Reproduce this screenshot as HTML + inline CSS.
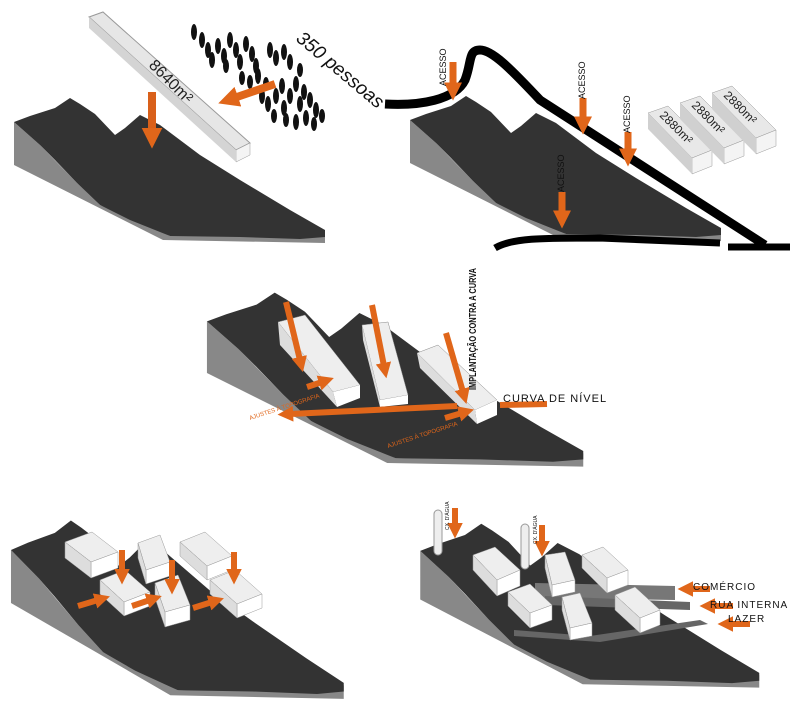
<!DOCTYPE html>
<html><head><meta charset="utf-8"><style>
html,body{margin:0;padding:0;background:#fff;}
svg{display:block;font-family:"Liberation Sans",sans-serif;}
</style></head><body>
<svg width="800" height="702" viewBox="0 0 800 702" xmlns="http://www.w3.org/2000/svg">
<defs>
<marker id="ah" viewBox="0 0 10 10" refX="2" refY="5" markerWidth="2.6" markerHeight="2.6" orient="auto"><path d="M0,0 L10,5 L0,10 Z" fill="#e0661a"/></marker>
<g id="terr">
<path d="M14,122 L14,165 L163,240 L325,243 L325,232 L170,236 L100,205 L77,183 L40,145 Z" fill="#888"/>
<path d="M14,122 L30,116 L55,108 L70,98 L80,104 L95,114 L115,135 L125,128 L140,115 L160,125 L200,155 L240,180 L290,210 L325,230 L325,237 L300,239 L240,237 L170,236 L130,220 L100,205 L77,183 L55,160 L40,145 Z" fill="#333"/>
</g>
</defs>

<!-- Panel 1 -->
<use href="#terr"/>
<g>
<polygon points="89,17 103,12 250,143 236,150" fill="#e6e6e6" stroke="#999" stroke-width="1"/>
<polygon points="236,150 250,143 250,155 236,162" fill="#f4f4f4" stroke="#999" stroke-width=".5"/>
<polygon points="89,17 236,150 236,162 89,28" fill="#d4d4d4"/>
<text transform="translate(148,66) rotate(45)" font-size="16" fill="#222">8640m²</text>
<g fill="#111">
<ellipse cx="194" cy="32" rx="3" ry="8"/><ellipse cx="202" cy="40" rx="3" ry="8"/><ellipse cx="208" cy="50" rx="3" ry="8"/><ellipse cx="212" cy="60" rx="3" ry="8"/>
<ellipse cx="218" cy="46" rx="3" ry="8"/><ellipse cx="224" cy="56" rx="3" ry="8"/><ellipse cx="230" cy="40" rx="3" ry="8"/><ellipse cx="236" cy="50" rx="3" ry="8"/>
<ellipse cx="240" cy="62" rx="3" ry="8"/><ellipse cx="246" cy="44" rx="3" ry="8"/><ellipse cx="252" cy="54" rx="3" ry="8"/><ellipse cx="256" cy="66" rx="3" ry="8"/>
<ellipse cx="242" cy="78" rx="3" ry="7"/><ellipse cx="250" cy="82" rx="3" ry="7"/><ellipse cx="258" cy="76" rx="3" ry="8"/>
<ellipse cx="270" cy="50" rx="3" ry="8"/><ellipse cx="276" cy="58" rx="3" ry="8"/><ellipse cx="284" cy="52" rx="3" ry="8"/><ellipse cx="290" cy="62" rx="3" ry="8"/>
<ellipse cx="262" cy="96" rx="3" ry="8"/><ellipse cx="268" cy="104" rx="3" ry="8"/><ellipse cx="276" cy="96" rx="3" ry="8"/><ellipse cx="282" cy="86" rx="3" ry="8"/>
<ellipse cx="284" cy="108" rx="3" ry="8"/><ellipse cx="290" cy="96" rx="3" ry="8"/><ellipse cx="296" cy="84" rx="3" ry="8"/><ellipse cx="300" cy="104" rx="3" ry="8"/>
<ellipse cx="304" cy="92" rx="3" ry="8"/><ellipse cx="310" cy="100" rx="3" ry="8"/><ellipse cx="316" cy="110" rx="3" ry="8"/><ellipse cx="306" cy="118" rx="3" ry="8"/>
<ellipse cx="296" cy="122" rx="3" ry="8"/><ellipse cx="314" cy="124" rx="3" ry="7"/><ellipse cx="322" cy="116" rx="3" ry="7"/><ellipse cx="286" cy="120" rx="3" ry="7"/>
<ellipse cx="274" cy="116" rx="3" ry="7"/><ellipse cx="266" cy="84" rx="3" ry="7"/><ellipse cx="226" cy="66" rx="3" ry="7"/><ellipse cx="300" cy="70" rx="3" ry="7"/>
</g>
<text transform="translate(295,40) rotate(40)" font-size="19" font-style="italic" fill="#111">350 pessoas</text>
<line x1="152" y1="92" x2="152" y2="132" stroke="#d9601a" stroke-width="8" marker-end="url(#ah)"/>
<line x1="275" y1="84" x2="234" y2="98" stroke="#e0661a" stroke-width="8" marker-end="url(#ah)"/>
</g>

<!-- Panel 2 -->
<use href="#terr" transform="translate(396,-2)"/>
<path d="M385,104 C420,106 455,100 465,80 C472,62 468,50 480,50 C492,50 510,68 540,100 L765,245" fill="none" stroke="#000" stroke-width="9"/>
<path d="M728,247 L790,247" stroke="#000" stroke-width="7"/>
<path d="M495,248 C512,238 540,238 600,238 L720,243" fill="none" stroke="#000" stroke-width="7"/>
<g>
<line x1="453" y1="62" x2="453" y2="86" stroke="#e0661a" stroke-width="7" marker-end="url(#ah)"/>
<line x1="583" y1="98" x2="583" y2="120" stroke="#e0661a" stroke-width="7" marker-end="url(#ah)"/>
<line x1="628" y1="132" x2="628" y2="152" stroke="#e0661a" stroke-width="7" marker-end="url(#ah)"/>
<line x1="562" y1="192" x2="562" y2="214" stroke="#e0661a" stroke-width="7" marker-end="url(#ah)"/>
</g>
<g font-size="9" fill="#111">
<text transform="translate(446,86) rotate(-90)">ACESSO</text>
<text transform="translate(585,99) rotate(-90)">ACESSO</text>
<text transform="translate(630,133) rotate(-90)">ACESSO</text>
<text transform="translate(564,192) rotate(-90)">ACESSO</text>
</g>
<g>
<polygon points="648,113 668,106 712,150 692,158" fill="#e8e8e8" stroke="#999" stroke-width=".5"/>
<polygon points="692,158 712,150 712,166 692,174" fill="#f4f4f4" stroke="#999" stroke-width=".5"/>
<polygon points="648,113 692,158 692,174 648,129" fill="#d0d0d0"/>
<text transform="translate(659,116) rotate(45)" font-size="12" fill="#222">2880m²</text>
<polygon points="680,103 700,96 744,140 724,148" fill="#e8e8e8" stroke="#999" stroke-width=".5"/>
<polygon points="724,148 744,140 744,156 724,164" fill="#f4f4f4" stroke="#999" stroke-width=".5"/>
<polygon points="680,103 724,148 724,164 680,119" fill="#d0d0d0"/>
<text transform="translate(691,106) rotate(45)" font-size="12" fill="#222">2880m²</text>
<polygon points="712,93 732,86 776,130 756,138" fill="#e8e8e8" stroke="#999" stroke-width=".5"/>
<polygon points="756,138 776,130 776,146 756,154" fill="#f4f4f4" stroke="#999" stroke-width=".5"/>
<polygon points="712,93 756,138 756,154 712,109" fill="#d0d0d0"/>
<text transform="translate(723,96) rotate(45)" font-size="12" fill="#222">2880m²</text>
</g>

<!-- Panel 3 -->
<use href="#terr" transform="translate(190,175) scale(1.21,1.2)"/>
<g>
<polygon points="278,322 305,315 360,385 333,392" fill="#eee" stroke="#888" stroke-width=".5"/>
<polygon points="333,392 360,385 360,398 337,407" fill="#fff"/>
<polygon points="278,322 333,392 337,407 280,345" fill="#ddd"/>
<polygon points="362,325 388,322 408,395 380,400" fill="#eee" stroke="#888" stroke-width=".5"/>
<polygon points="380,400 408,395 408,404 380,407" fill="#fff"/>
<polygon points="362,325 380,400 380,407 363,340" fill="#ddd"/>
<polygon points="417,353 438,345 497,400 475,410" fill="#eee" stroke="#888" stroke-width=".5"/>
<polygon points="475,410 497,400 497,415 477,424" fill="#fff"/>
<polygon points="417,353 475,410 477,424 420,368" fill="#ddd"/>
</g>
<g stroke="#e0661a" stroke-width="6">
<line x1="286" y1="302" x2="300" y2="360" marker-end="url(#ah)"/>
<line x1="372" y1="305" x2="384" y2="366" marker-end="url(#ah)"/>
<line x1="446" y1="333" x2="463" y2="392" marker-end="url(#ah)"/>
<line x1="457" y1="406" x2="290" y2="414" marker-end="url(#ah)"/>
<line x1="307" y1="387" x2="322" y2="382" marker-end="url(#ah)"/>
<line x1="445" y1="418" x2="462" y2="413" marker-end="url(#ah)"/>
<line x1="500" y1="405" x2="547" y2="404"/>
</g>
<text transform="translate(476,390) rotate(-90)" font-size="10" font-weight="bold" fill="#111" textLength="122" lengthAdjust="spacingAndGlyphs">IMPLANTAÇÃO CONTRA A CURVA</text>
<text x="503" y="402" font-size="11" fill="#111" letter-spacing="1">CURVA DE NÍVEL</text>
<text transform="translate(250,420) rotate(-18)" font-size="6" fill="#e0661a">AJUSTES À TOPOGRAFIA</text>
<text transform="translate(388,448) rotate(-18)" font-size="6" fill="#e0661a">AJUSTES À TOPOGRAFIA</text>

<!-- Panel 4 -->
<use href="#terr" transform="translate(-4,400) scale(1.07,1.23)"/>
<g stroke="#999" stroke-width=".5">
<polygon points="65,542 92,532 118,552 91,562" fill="#eee"/><polygon points="91,562 118,552 118,568 91,578" fill="#fff"/><polygon points="65,542 91,562 91,578 65,558" fill="#ddd"/>
<polygon points="138,543 160,535 170,562 146,570" fill="#eee"/><polygon points="146,570 170,562 170,576 146,584" fill="#fff"/><polygon points="138,543 146,570 146,584 138,558" fill="#ddd"/>
<polygon points="180,542 205,532 232,556 207,566" fill="#eee"/><polygon points="207,566 232,556 232,570 207,580" fill="#fff"/><polygon points="180,542 207,566 207,580 180,556" fill="#ddd"/>
<polygon points="100,580 125,570 150,592 124,602" fill="#eee"/><polygon points="124,602 150,592 150,606 124,616" fill="#fff"/><polygon points="100,580 124,602 124,616 100,594" fill="#ddd"/>
<polygon points="155,583 178,575 190,605 165,612" fill="#eee"/><polygon points="165,612 190,605 190,620 165,627" fill="#fff"/><polygon points="155,583 165,612 165,627 155,598" fill="#ddd"/>
<polygon points="210,580 235,570 262,594 237,604" fill="#eee"/><polygon points="237,604 262,594 262,608 237,618" fill="#fff"/><polygon points="210,580 237,604 237,618 210,594" fill="#ddd"/>
</g>
<g stroke="#e0661a" stroke-width="6">
<line x1="122" y1="550" x2="122" y2="572" marker-end="url(#ah)"/>
<line x1="172" y1="560" x2="172" y2="582" marker-end="url(#ah)"/>
<line x1="234" y1="552" x2="234" y2="572" marker-end="url(#ah)"/>
<line x1="78" y1="606" x2="98" y2="600" marker-end="url(#ah)"/>
<line x1="132" y1="606" x2="150" y2="600" marker-end="url(#ah)"/>
<line x1="193" y1="608" x2="212" y2="602" marker-end="url(#ah)"/>
</g>

<!-- Panel 5 -->
<use href="#terr" transform="translate(405,413) scale(1.09,1.13)"/>
<rect x="434" y="510" width="8" height="45" rx="4" fill="#eee" stroke="#999"/>
<rect x="521" y="524" width="8" height="45" rx="4" fill="#eee" stroke="#999"/>
<polygon points="535,583 675,586 675,600 535,598" fill="#777"/>
<polygon points="545,596 690,602 690,610 545,605" fill="#666"/>
<polygon points="514,630 590,636 700,620 708,624 600,642 514,636" fill="#666"/>
<g stroke="#999" stroke-width=".5">
<polygon points="473,555 495,547 520,570 497,580" fill="#eee"/><polygon points="497,580 520,570 520,586 497,596" fill="#fff"/><polygon points="473,555 497,580 497,596 473,570" fill="#ddd"/>
<polygon points="545,555 565,552 575,580 552,585" fill="#eee"/><polygon points="552,585 575,580 575,592 552,597" fill="#fff"/><polygon points="545,555 552,585 552,597 545,568" fill="#ddd"/>
<polygon points="582,555 603,547 628,570 607,578" fill="#eee"/><polygon points="607,578 628,570 628,585 607,593" fill="#fff"/><polygon points="582,555 607,578 607,593 582,568" fill="#ddd"/>
<polygon points="508,592 530,584 552,605 530,613" fill="#eee"/><polygon points="530,613 552,605 552,620 530,628" fill="#fff"/><polygon points="508,592 530,613 530,628 508,606" fill="#ddd"/>
<polygon points="562,597 580,593 592,623 570,628" fill="#eee"/><polygon points="570,628 592,623 592,636 570,640" fill="#fff"/><polygon points="562,597 570,628 570,640 562,610" fill="#ddd"/>
<polygon points="615,595 635,587 660,610 640,618" fill="#eee"/><polygon points="640,618 660,610 660,625 640,633" fill="#fff"/><polygon points="615,595 640,618 640,633 615,610" fill="#ddd"/>
</g>
<g stroke="#e0661a" stroke-width="6">
<line x1="455" y1="508" x2="455" y2="526" marker-end="url(#ah)"/>
<line x1="542" y1="525" x2="542" y2="544" marker-end="url(#ah)"/>
<line x1="710" y1="589" x2="690" y2="589" marker-end="url(#ah)"/>
<line x1="733" y1="606" x2="712" y2="606" marker-end="url(#ah)"/>
<line x1="750" y1="624" x2="730" y2="624" marker-end="url(#ah)"/>
</g>
<g font-size="5" fill="#111"><text transform="translate(449,530) rotate(-90)">CX. D'ÁGUA</text><text transform="translate(537,544) rotate(-90)">CX. D'ÁGUA</text></g>
<g font-size="10" fill="#111" letter-spacing="1">
<text x="693" y="590">COMÉRCIO</text>
<text x="710" y="608">RUA INTERNA</text>
<text x="728" y="622">LAZER</text>
</g>
</svg>
</body></html>
